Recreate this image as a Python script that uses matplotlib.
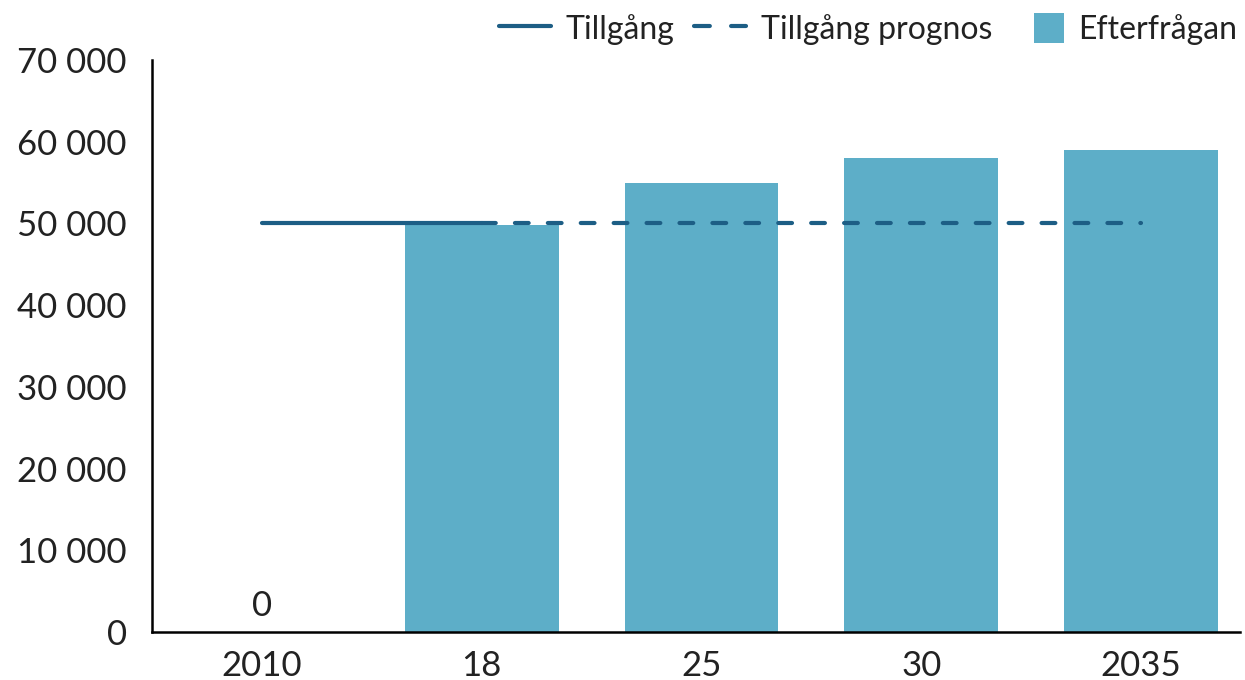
import matplotlib
matplotlib.use("Agg")
import matplotlib.pyplot as plt
from matplotlib.lines import Line2D
from matplotlib.patches import Patch, Rectangle
from matplotlib.legend_handler import HandlerPatch
from matplotlib.ticker import FuncFormatter

plt.rcParams['font.family'] = ['Lato', 'DejaVu Sans']

categories = ["2010", "18", "25", "30", "2035"]
efterfragan = [0, 49800, 55000, 58000, 59000]
tillgang = [50000, 50000]            # 2010 -> 18
tillgang_prognos = [50000, 50000, 50000, 50000]  # 18 -> 2035

bar_color = "#5daec8"
line_color = "#1d5e85"
text_color = "#222222"

fig = plt.figure(figsize=(12.45, 6.8), dpi=100)
ax = fig.add_axes([0.122, 0.0706, 0.874, 0.8412])

x = list(range(len(categories)))
ax.bar(x, efterfragan, width=0.7, color=bar_color, zorder=2)
ax.plot(x[:2], tillgang, color=line_color, lw=3, solid_capstyle="round", zorder=3)
ax.plot(x[1:], tillgang_prognos, color=line_color, lw=3, linestyle=(0, (3.3, 4.6)),
        dash_capstyle="round", zorder=3)

ax.text(x[0], efterfragan[0] + 1200, "0", ha="center", va="bottom", fontsize=25, color=text_color)

ax.set_ylim(0, 70000)
ax.set_xlim(-0.5, 4.45)
ax.set_yticks(range(0, 70001, 10000))
ax.yaxis.set_major_formatter(FuncFormatter(lambda v, p: f"{int(v):,}".replace(",", " ")))
ax.set_xticks(x)
ax.set_xticklabels(categories)
ax.tick_params(axis="both", length=0, labelsize=25, colors=text_color)
ax.tick_params(axis="y", pad=18)
ax.tick_params(axis="x", pad=13)

for s in ["top", "right"]:
    ax.spines[s].set_visible(False)
for s in ["left", "bottom"]:
    ax.spines[s].set_linewidth(1.8)
    ax.spines[s].set_color("black")


def square_patch(legend, orig_handle, xdescent, ydescent, width, height, fontsize):
    side = 21.6
    return Rectangle((width - xdescent - side, -ydescent + (height - side) / 2), side, side)


# legend proxies
h_solid = Line2D([], [], color=line_color, lw=3, solid_capstyle="round")
h_dash = Line2D([], [], color=line_color, lw=3, linestyle=(0, (3.8, 5.1)),
                dash_capstyle="round")
h_bar = Patch(facecolor=bar_color, edgecolor="none")
ax.legend([h_solid, h_dash, h_bar], ["Tillgång", "Tillgång prognos", "Efterfrågan"],
          ncol=3, frameon=False, loc="lower right", bbox_to_anchor=(1.024, 0.976),
          fontsize=23, handlelength=1.65, handleheight=1.0, columnspacing=0.6,
          handletextpad=0.45, labelcolor=text_color,
          handler_map={Patch: HandlerPatch(patch_func=square_patch)})

fig.savefig("out.png", dpi=100)
